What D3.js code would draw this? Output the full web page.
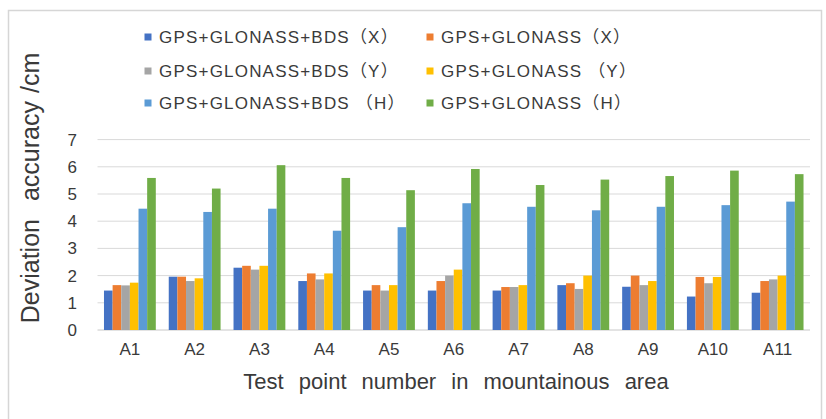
<!DOCTYPE html>
<html>
<head>
<meta charset="utf-8">
<script src="https://cdn.jsdelivr.net/npm/d3@7"></script>
<style>
  body { margin: 0; background: #fff; }
  text { font-family: "Liberation Sans", Arial, "Noto Sans CJK SC", sans-serif; fill: #3a3a3a; }
</style>
</head>
<body>
<div id="chart"></div>
<script>
// data
var points = ["A1", "A2", "A3", "A4", "A5", "A6", "A7", "A8", "A9", "A10", "A11"];
var seriesNames = [
  "GPS+GLONASS+BDS（X）",
  "GPS+GLONASS（X）",
  "GPS+GLONASS+BDS（Y）",
  "GPS+GLONASS （Y）",
  "GPS+GLONASS+BDS （H）",
  "GPS+GLONASS（H）"
];
var bdsX   = [1.45, 1.96, 2.29, 1.80, 1.45, 1.45, 1.45, 1.65, 1.59, 1.23, 1.37];
var glonX  = [1.65, 1.96, 2.36, 2.08, 1.65, 1.80, 1.58, 1.72, 2.00, 1.95, 1.80];
var bdsY   = [1.64, 1.80, 2.22, 1.86, 1.45, 2.00, 1.58, 1.51, 1.65, 1.72, 1.86];
var glonY  = [1.74, 1.90, 2.36, 2.08, 1.65, 2.22, 1.65, 2.00, 1.80, 1.95, 2.00];
var bdsH   = [4.46, 4.34, 4.46, 3.65, 3.78, 4.66, 4.53, 4.40, 4.53, 4.59, 4.72];
var glonH  = [5.59, 5.20, 6.06, 5.59, 5.14, 5.92, 5.33, 5.53, 5.66, 5.86, 5.73];
var yTicks = [0, 1, 2, 3, 4, 5, 6, 7];
var colors = ["#4472C4", "#ED7D31", "#A5A5A5", "#FFC000", "#5B9BD5", "#70AD47"];

var allSeries = [bdsX, glonX, bdsY, glonY, bdsH, glonH];

var width = 826, height = 419;
var plot = { left: 97.5, right: 810, top: 139.6, bottom: 330 };

var svg = d3.select("#chart").append("svg")
  .attr("width", width)
  .attr("height", height);

// outer frame of the figure
svg.append("path")
  .attr("d", "M8.5," + height + "V10.5H821.5V" + height)
  .attr("fill", "none")
  .attr("stroke", "#d6d6d6")
  .attr("stroke-width", 1.5);

var x0 = d3.scaleBand()
  .domain(points)
  .range([plot.left, plot.right])
  .paddingInner(0.2)
  .paddingOuter(0.1);

var x1 = d3.scaleBand()
  .domain(d3.range(allSeries.length))
  .range([0, x0.bandwidth()]);

var y = d3.scaleLinear()
  .domain([0, 7])
  .range([plot.bottom, plot.top]);

// gridlines
svg.append("g")
  .selectAll("line")
  .data(yTicks)
  .join("line")
  .attr("x1", plot.left)
  .attr("x2", plot.right)
  .attr("y1", d => y(d))
  .attr("y2", d => y(d))
  .attr("stroke", d => d === 0 ? "#c8c8c8" : "#d9d9d9")
  .attr("stroke-width", 1);

// y axis labels
var yAxis = d3.axisLeft(y).tickValues(yTicks).tickFormat(d3.format("d")).tickSize(0).tickPadding(0);
var gy = svg.append("g")
  .attr("transform", "translate(77,0)")
  .call(yAxis);
gy.select(".domain").remove();
gy.selectAll("text")
  .style("font-size", "17px")
  .style("font-family", "'Liberation Sans', Arial, sans-serif")
  .attr("fill", "#3a3a3a");

// x axis labels
var xAxis = d3.axisBottom(x0).tickSize(0).tickPadding(0);
var gx = svg.append("g")
  .attr("transform", "translate(0,343)")
  .call(xAxis);
gx.select(".domain").remove();
gx.selectAll("text")
  .style("font-size", "17px")
  .style("font-family", "'Liberation Sans', Arial, sans-serif")
  .attr("fill", "#3a3a3a");

// bars
var groups = svg.append("g")
  .selectAll("g")
  .data(points)
  .join("g")
  .attr("transform", d => "translate(" + x0(d) + ",0)");

groups.selectAll("rect")
  .data((d, i) => allSeries.map((s, k) => ({ k: k, v: s[i] })))
  .join("rect")
  .attr("x", d => x1(d.k))
  .attr("width", x1.bandwidth())
  .attr("y", d => y(d.v))
  .attr("height", d => y(0) - y(d.v))
  .attr("fill", d => colors[d.k]);

// legend, two columns x three rows
var legCols = [148, 430], legRows = [37, 71, 103];
var leg = svg.append("g")
  .selectAll("g")
  .data(seriesNames)
  .join("g")
  .attr("transform", (d, i) => "translate(" + legCols[i % 2] + "," + legRows[Math.floor(i / 2)] + ")");

leg.append("rect")
  .attr("x", -3.5)
  .attr("y", -3.5)
  .attr("width", 7)
  .attr("height", 7)
  .attr("fill", (d, i) => colors[i]);

leg.append("text")
  .attr("x", 11)
  .attr("dy", "0.36em")
  .style("font-size", "17px")
  .style("letter-spacing", "1.2px")
  .text(d => d);

// axis titles
svg.append("text")
  .attr("x", 456)
  .attr("y", 389)
  .attr("text-anchor", "middle")
  .style("font-size", "22px")
  .style("word-spacing", "9px")
  .text("Test point number in mountainous area");

var yTitle = svg.append("text")
  .attr("transform", "translate(39,188) rotate(-90)")
  .attr("text-anchor", "middle")
  .style("font-size", "25px");
yTitle.append("tspan").text("Deviation");
yTitle.append("tspan").attr("dx", 18).text("accuracy");
yTitle.append("tspan").attr("dx", 8).text("/cm");
</script>
</body>
</html>
